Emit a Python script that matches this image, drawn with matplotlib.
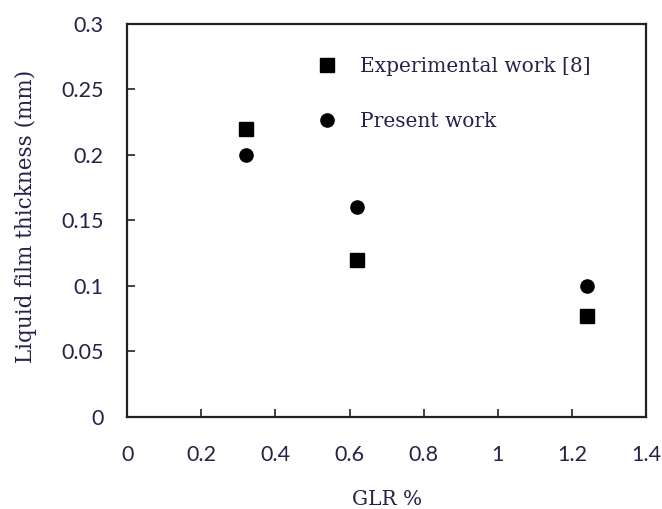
import matplotlib
matplotlib.use("Agg")
import matplotlib.pyplot as plt

glr = [0.32, 0.62, 1.24]
exp_thickness = [0.22, 0.12, 0.077]
present_thickness = [0.20, 0.16, 0.10]

xticks = [0, 0.2, 0.4, 0.6, 0.8, 1, 1.2, 1.4]
yticks = [0, 0.05, 0.1, 0.15, 0.2, 0.25, 0.3]
xtick_labels = ["0", "0.2", "0.4", "0.6", "0.8", "1", "1.2", "1.4"]
ytick_labels = ["0", "0.05", "0.1", "0.15", "0.2", "0.25", "0.3"]

txt = "#23234a"

fig = plt.figure(figsize=(6.62, 5.09), dpi=100)
ax = fig.add_axes([0.192, 0.181, 0.784, 0.772])

ax.plot(glr, exp_thickness, "s", color="black", markersize=9.5, linestyle="none",
        label="Experimental work [8]")
ax.plot(glr, present_thickness, "o", color="black", markersize=9.5, linestyle="none",
        label="Present work")

ax.set_xlim(0, 1.4)
ax.set_ylim(0, 0.3)
ax.set_xticks(xticks)
ax.set_xticklabels(xtick_labels)
ax.set_yticks(yticks)
ax.set_yticklabels(ytick_labels)

for lab in ax.get_xticklabels() + ax.get_yticklabels():
    lab.set_fontfamily("Lato")
    lab.set_fontsize(15.5)
    lab.set_color(txt)

ax.tick_params(direction="in", length=6, width=1.3, color="#333333")
ax.tick_params(axis="y", pad=17)
ax.tick_params(axis="x", pad=20)

for side in ["top", "right", "left", "bottom"]:
    ax.spines[side].set_linewidth(1.6)
    ax.spines[side].set_color("#222222")

ax.set_xlabel("GLR %", family="DejaVu Serif", fontsize=14.5, color=txt)
ax.set_ylabel("Liquid film thickness (mm)", family="DejaVu Serif", fontsize=15.5,
              color=txt)
ax.xaxis.set_label_coords(0.5, -0.186)
ax.yaxis.set_label_coords(-0.173, 0.509)

leg = ax.legend(loc="upper left", bbox_to_anchor=(0.312, 0.962), frameon=False,
                labelspacing=1.8, handletextpad=0.6, numpoints=1,
                prop={"family": "DejaVu Serif", "size": 14.5})
for t in leg.get_texts():
    t.set_color(txt)

fig.savefig("out.png", dpi=100)
